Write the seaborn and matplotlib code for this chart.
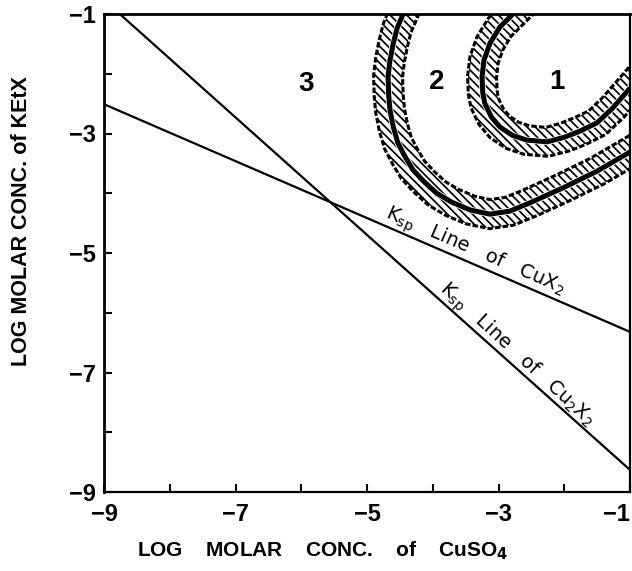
import numpy as np
import pandas as pd
import matplotlib
matplotlib.use("Agg")
import matplotlib.pyplot as plt
import seaborn as sns

# ---------------- data ----------------
# Ksp line of CuX2
cux2_x = [-9.0, -1.0]
cux2_y = [-2.51, -6.32]
# Ksp line of Cu2X2
cu2x2_x = [-8.76, -1.0]
cu2x2_y = [-1.0, -8.63]

# outer boundary band (between regions 3 and 2)
outer_x = [-4.45, -4.54, -4.60, -4.65, -4.68, -4.67, -4.65, -4.60, -4.53, -4.42,
           -4.30, -4.13, -3.94, -3.71, -3.43, -3.13, -2.83, -2.52, -2.02, -1.50, -1.00]
outer_y = [-1.00, -1.23, -1.49, -1.77, -2.05, -2.36, -2.61, -2.89, -3.16, -3.39,
           -3.61, -3.81, -4.00, -4.15, -4.28, -4.35, -4.30, -4.16, -3.91, -3.63, -3.31]

# inner boundary band (between regions 2 and 1)
inner_x = [-2.78, -2.98, -3.13, -3.22, -3.25, -3.24, -3.21, -3.11, -2.98, -2.79,
           -2.57, -2.26, -1.99, -1.76, -1.50, -1.26, -1.00]
inner_y = [-1.00, -1.22, -1.49, -1.77, -2.05, -2.31, -2.49, -2.72, -2.89, -3.03,
           -3.11, -3.14, -3.06, -2.96, -2.82, -2.57, -2.24]

region_labels = ["3", "2", "1"]
region_x = [-5.93, -3.94, -2.11]
region_y = [-2.17, -2.14, -2.14]

tick_values = list(range(-9, 0))
tick_labels = ["\u22129", "", "\u22127", "", "\u22125", "", "\u22123", "", "\u22121"]

xlabel = "LOG    MOLAR    CONC.    of    CuSO$_\\mathbf{4}$"
ylabel = "LOG MOLAR CONC. of KEtX"
label_cux2 = "K$_{\\mathrm{sp}}$   Line   of   CuX$_{\\mathrm{2}}$"
label_cu2x2 = "K$_{\\mathrm{sp}}$   Line   of   Cu$_{\\mathrm{2}}$X$_{\\mathrm{2}}$"

# ---------------- figure ----------------
sns.set_theme(style="white")
plt.rcParams["font.family"] = ["DejaVu Sans"]
plt.rcParams["text.color"] = "black"
plt.rcParams["axes.labelcolor"] = "black"
plt.rcParams["xtick.color"] = "black"
plt.rcParams["ytick.color"] = "black"
plt.rcParams["mathtext.fontset"] = "dejavusans"
plt.rcParams["hatch.linewidth"] = 1.25
plt.rcParams["hatch.color"] = "black"

fig = plt.figure(figsize=(6.32, 5.71), dpi=100)
ax = fig.add_axes([104 / 632, 79 / 571, 526 / 632, 478 / 571])
ax.set_xlim(-9, -1)
ax.set_ylim(-9, -1)

lines_df = pd.DataFrame({
    "x": cux2_x + cu2x2_x,
    "y": cux2_y + cu2x2_y,
    "line": ["CuX2"] * 2 + ["Cu2X2"] * 2,
})
sns.lineplot(data=lines_df, x="x", y="y", units="line", estimator=None,
             color="black", linewidth=1.6, ax=ax, legend=False)

inv = ax.transData.inverted()


def band(xs, ys):
    # centre line in display pixels, extended a little past the frame
    P = ax.transData.transform(np.column_stack([xs, ys]))
    t0 = P[0] - P[1]
    t0 = t0 / np.hypot(*t0)
    t1 = P[-1] - P[-2]
    t1 = t1 / np.hypot(*t1)
    P = np.vstack([P[0] + 25 * t0, P, P[-1] + 25 * t1])
    d_prev = P[1:-1] - P[:-2]
    d_next = P[2:] - P[1:-1]
    d_prev /= np.hypot(d_prev[:, 0], d_prev[:, 1])[:, None]
    d_next /= np.hypot(d_next[:, 0], d_next[:, 1])[:, None]
    T = np.vstack([P[1] - P[0], d_prev + d_next, P[-1] - P[-2]])
    T = T / np.hypot(T[:, 0], T[:, 1])[:, None]
    N = np.column_stack([-T[:, 1], T[:, 0]])
    for s in (1, -1):
        a = P + N * (s * 3.3)
        b = P + N * (s * 14.0)
        poly = inv.transform(np.vstack([a, b[::-1]]))
        ax.fill(poly[:, 0], poly[:, 1], facecolor="white", edgecolor="black",
                hatch="\\\\\\\\", linewidth=0, zorder=2)
        bd = inv.transform(P + N * (s * 14.5))
        ax.plot(bd[:, 0], bd[:, 1], color="black", linewidth=2.2,
                linestyle=(0, (1.8, 0.7)), zorder=2.1,
                dash_joinstyle="round")
    df = pd.DataFrame({"x": xs, "y": ys})
    sns.lineplot(data=df, x="x", y="y", sort=False, estimator=None,
                 color="black", linewidth=3.6, ax=ax, zorder=2.4,
                 solid_capstyle="butt", solid_joinstyle="round")


band(outer_x, outer_y)
band(inner_x, inner_y)

for t, x, y in zip(region_labels, region_x, region_y):
    ax.text(x, y, t, fontsize=20, fontweight="bold", ha="center", va="center",
            family="Liberation Sans", color="black")

ax.text(-3.36, -4.98, label_cux2, rotation=-23.4, rotation_mode="anchor",
        ha="center", va="center", fontsize=14, fontweight="normal", color="black")
ax.text(-2.73, -6.71, label_cu2x2, rotation=-42.5, rotation_mode="anchor",
        ha="center", va="center", fontsize=14, fontweight="normal", color="black")

ax.set_xticks(tick_values)
ax.set_xticklabels(tick_labels)
ax.set_yticks(tick_values)
ax.set_yticklabels(tick_labels)
ax.tick_params(direction="in", length=6, width=1.5, colors="black",
               bottom=True, left=True, top=False, right=False, labelsize=17)
ax.tick_params(axis="x", pad=8)
ax.tick_params(axis="y", pad=6)
for lbl in ax.get_xticklabels() + ax.get_yticklabels():
    lbl.set_fontweight("bold")
    lbl.set_family("Liberation Sans")
xt = ax.get_xticklabels()
xt[-1].set_horizontalalignment("right")

for side in ["left", "bottom", "right", "top"]:
    ax.spines[side].set_visible(True)
    ax.spines[side].set_color("black")
    ax.spines[side].set_zorder(5)
ax.spines["left"].set_linewidth(2.0)
ax.spines["bottom"].set_linewidth(1.6)
ax.spines["top"].set_linewidth(2.0)
ax.spines["right"].set_linewidth(1.6)

ax.set_xlabel(xlabel, fontsize=15, fontweight="bold", color="black",
              family="Liberation Sans")
ax.set_ylabel(ylabel, fontsize=15.5, fontweight="bold", color="black",
              family="Liberation Sans")
ax.xaxis.set_label_coords((323 - 104) / 526, -(551 - 492) / 478)
ax.yaxis.set_label_coords((22 - 104) / 526, (492 - 221) / 478)
ax.xaxis.label.set_va("center")
ax.yaxis.label.set_va("center")

fig.savefig("out.png", dpi=100, facecolor="white")
